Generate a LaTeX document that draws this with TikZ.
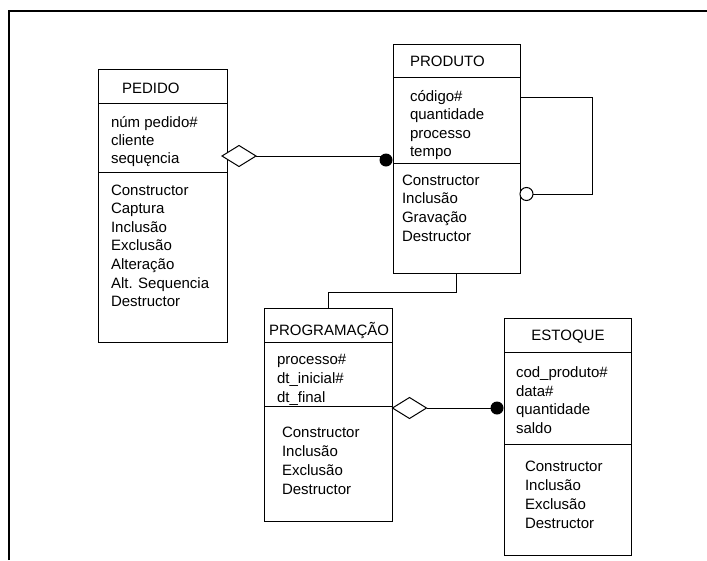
\documentclass[tikz,border=0pt]{standalone}
\usepackage{fontspec}
\setmainfont{Liberation Sans}
\usetikzlibrary{shapes.geometric}
\begin{document}
\begin{tikzpicture}[x=1pt,y=-1pt,
  frame/.style={line width=1.5pt},
  classbox/.style={draw, line width=1pt, rectangle, inner sep=0pt, outer sep=0pt, anchor=north west},
  rule/.style={line width=1pt},
  txt/.style={anchor=base west, inner sep=0pt, outer sep=0pt, font=\fontsize{15}{18}\selectfont},
  assoc/.style={line width=1pt},
  agg/.style={diamond, draw, fill=white, line width=1pt, inner sep=0pt, outer sep=0pt,
              minimum width=34pt, minimum height=21pt},
  dot/.style={circle, fill=black, inner sep=0pt, outer sep=0pt, minimum size=13pt},
  opendot/.style={circle, draw, fill=white, line width=1pt, inner sep=0pt, outer sep=0pt, minimum size=13pt}]

\useasboundingbox (0,0) rectangle (707,560);

% outer frame
\draw[frame] (9,560) -- (9,11) -- (707,11);

% class boxes
\node[classbox, minimum width=129pt, minimum height=273pt] (pedido) at (98,69) {};
\node[classbox, minimum width=127pt, minimum height=229pt] (produto) at (393,44) {};
\node[classbox, minimum width=128pt, minimum height=213pt] (programacao) at (264,308) {};
\node[classbox, minimum width=127pt, minimum height=237pt] (estoque) at (504,318) {};

% compartment rules
\draw[rule] (pedido.west |- 0,103) -- (pedido.east |- 0,103);
\draw[rule] (pedido.west |- 0,172) -- (pedido.east |- 0,172);
\draw[rule] (produto.west |- 0,77) -- (produto.east |- 0,77);
\draw[rule] (produto.west |- 0,163) -- (produto.east |- 0,163);
\draw[rule] (programacao.west |- 0,342) -- (programacao.east |- 0,342);
\draw[rule] (programacao.west |- 0,406) -- (programacao.east |- 0,406);
\draw[rule] (estoque.west |- 0,352) -- (estoque.east |- 0,352);
\draw[rule] (estoque.west |- 0,444) -- (estoque.east |- 0,444);

% PEDIDO
\node[txt] (pedido-title) at (122,93) {PEDIDO};
\foreach \t [count=\i] in {núm pedido\#, cliente, sequęncia}
  \node[txt] (pedido-a\i) at (111,{127+18.2*(\i-1)}) {\t};
\foreach \t [count=\i] in {Constructor, Captura, Inclusão, Exclusão, Alteração, Alt. Sequencia, Destructor}
  \node[txt] (pedido-m\i) at (111,{195+18.6*(\i-1)}) {\t};

% PRODUTO
\node[txt] (produto-title) at (410,66.5) {PRODUTO};
\foreach \t [count=\i] in {código\#, quantidade, processo, tempo}
  \node[txt] (produto-a\i) at (410,{101+18.6*(\i-1)}) {\t};
\foreach \t [count=\i] in {Constructor, Inclusão, Gravação, Destructor}
  \node[txt] (produto-m\i) at (402,{185+18.9*(\i-1)}) {\t};

% PROGRAMAÇÃO
\node[txt] (programacao-title) at (269,335) {PROGRAMAÇÃO};
\foreach \t [count=\i] in {processo\#, dt\_inicial\#, dt\_final}
  \node[txt] (programacao-a\i) at (277,{364+19*(\i-1)}) {\t};
\foreach \t [count=\i] in {Constructor, Inclusão, Exclusão, Destructor}
  \node[txt] (programacao-m\i) at (282,{437.7+18.8*(\i-1)}) {\t};

% ESTOQUE
\node[txt, anchor=base] (estoque-title) at (568,340) {ESTOQUE};
\foreach \t [count=\i] in {cod\_produto\#, data\#, quantidade, saldo}
  \node[txt] (estoque-a\i) at (516,{377.5+18.6*(\i-1)}) {\t};
\foreach \t [count=\i] in {Constructor, Inclusão, Exclusão, Destructor}
  \node[txt] (estoque-m\i) at (525,{471+19*(\i-1)}) {\t};

% association ends
\node[agg] (agg1) at (239,156) {};
\node[dot] (dot1) at (386,160) {};
\node[agg] (agg2) at (409.5,408) {};
\node[dot] (dot2) at (497,408) {};
\node[opendot] (loop) at (526.5,194) {};
\coordinate (loopcorner) at (592,97);

% connectors
\draw[assoc] (agg1.east) -- (agg1.east -| dot1.center);
\draw[assoc] (agg2.east) -- (dot2);
\draw[assoc] (produto.east |- loopcorner) -- (loopcorner) |- (loop.east);
\draw[assoc] (produto.south) -- ++(0,19) -| (programacao.north);

\end{tikzpicture}
\end{document}
